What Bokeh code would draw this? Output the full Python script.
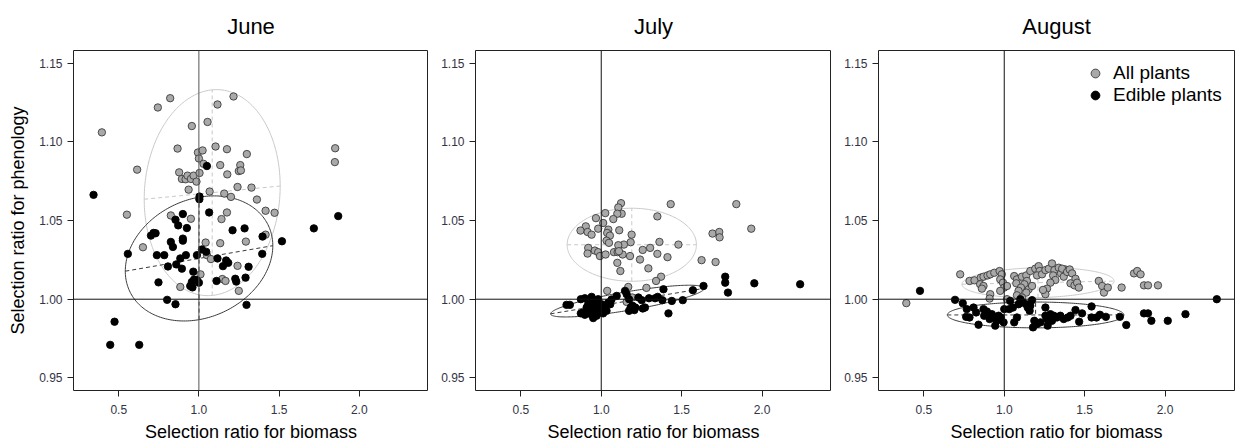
import numpy as np
from bokeh.plotting import figure
from bokeh.layouts import row
from bokeh.models import Span, Legend, LegendItem, FixedTicker, Range1d, PrintfTickFormatter
from bokeh.embed import file_html
from bokeh.resources import INLINE

FONT = "Liberation Sans"

months = ["June", "July", "August"]
x_ticks = [0.5, 1.0, 1.5, 2.0]
y_ticks = [0.95, 1.00, 1.05, 1.10, 1.15]
x_limits = [0.218, 2.432]
y_limits = [0.942, 1.158]
series_labels = ["All plants", "Edible plants"]

june_all = [(0.395,1.106),(0.551,1.0537),(0.615,1.0823),(0.651,1.033),(0.744,1.1218),(0.821,1.1277),
            (0.867,1.0957),(0.877,1.0806),(0.894,1.0764),(0.917,1.0762),(0.929,1.0785),(0.950,1.0764),
            (0.967,1.0785),(0.985,1.0747),(1.004,1.0802),(0.936,1.0696),(0.956,1.110),(0.825,1.0532),
            (0.950,1.0511),(0.994,1.0932),(1.000,1.0894),(1.023,1.0945),(1.029,1.086),(1.054,1.1126),
            (1.067,1.0684),(1.104,1.097),(1.116,1.1237),(1.133,1.0852),(1.175,1.0953),(1.177,1.0793),
            (1.158,1.0671),(1.200,1.065),(1.216,1.1288),(1.175,1.0551),(1.141,1.0509),(1.241,1.0713),
            (1.258,1.0852),(1.249,1.0814),(1.262,1.0818),(1.299,1.0922),(1.328,1.0709),(1.362,1.0633),
            (1.416,1.0562),(1.472,1.0549),(1.416,1.041),(1.293,1.0366),(1.133,1.0356),(1.042,1.036),
            (1.050,1.028),(1.075,1.0255),(1.146,1.0128),(1.166,1.0116),(1.241,1.0212),(1.249,1.0053),
            (1.010,1.0158),(0.884,1.0078),(1.850,1.0959),(1.848,1.0871)]
june_edible = [(1.004,1.0652),(1.003,1.0635),(1.064,1.0551),(0.900,1.0541),(0.854,1.0505),(0.871,1.0469),
               (0.925,1.0452),(0.717,1.0421),(0.701,1.0404),(0.730,1.0419),(0.825,1.0364),(0.838,1.0332),
               (0.900,1.0385),(0.900,1.0372),(1.210,1.0438),(1.285,1.0450),(1.397,1.0398),(1.518,1.0368),
               (1.869,1.0528),(1.717,1.0450),(0.557,1.0288),(0.738,1.0280),(0.784,1.0280),(0.884,1.0259),
               (0.919,1.0280),(0.988,1.0280),(1.019,1.0316),(1.046,1.0301),(0.807,1.0208),(0.859,1.0221),
               (0.894,1.0194),(1.116,1.0259),(1.170,1.0246),(1.183,1.0231),(1.150,1.0210),(1.310,1.0206),
               (0.965,1.0175),(0.748,1.0107),(0.946,1.0084),(0.956,1.0109),(0.960,1.0075),(0.970,1.0125),
               (0.988,1.0120),(1.000,1.0105),(1.110,1.0116),(1.227,1.0130),(1.233,1.0112),(1.291,1.0137),
               (1.395,1.0288),(0.802,0.9996),(0.854,0.9968),(1.297,0.9964),(0.474,0.9857),(0.447,0.9710),
               (0.628,0.9710),(0.343,1.0663),(1.050,1.0846)]

july_all = [(1.123,1.0610),(1.106,1.0583),(1.127,1.0543),(1.100,1.0543),(1.025,1.0547),(0.967,1.0515),
            (1.075,1.0509),(1.012,1.0484),(0.904,1.0463),(0.871,1.0436),(0.915,1.0427),(0.940,1.0410),
            (0.981,1.0448),(1.044,1.0442),(1.037,1.0421),(1.054,1.0404),(1.112,1.0438),(1.189,1.0410),
            (1.033,1.0372),(1.048,1.0358),(1.183,1.0362),(1.141,1.0347),(1.106,1.0343),(1.362,1.0364),
            (1.480,1.0347),(0.919,1.0326),(0.960,1.0309),(0.915,1.0290),(0.981,1.0299),(0.992,1.0274),
            (1.027,1.0284),(1.079,1.0299),(1.102,1.0299),(1.133,1.0284),(1.179,1.0274),(1.258,1.0313),
            (1.304,1.0326),(1.349,1.0288),(1.241,1.0252),(1.412,1.0267),(1.100,1.0231),(1.293,1.0196),
            (1.119,1.0179),(1.349,1.0526),(1.432,1.0604),(1.840,1.0604),(1.692,1.0417),(1.734,1.0427),
            (1.736,1.0393),(1.624,1.0248),(1.711,1.0236),(1.933,1.0448),(1.372,1.0143),(1.341,1.0116),
            (1.281,1.0072),(1.168,1.0078),(1.037,1.0053),(1.193,1.0011),(1.158,0.9983),(1.110,1.0305)]
july_edible = [(0.784,0.9964),(0.805,0.9964),(0.873,1.0000),(0.898,1.0006),(0.940,1.0015),(0.944,0.9989),
               (0.919,0.9968),(0.888,0.9916),(0.873,0.9910),(0.898,0.9901),(0.950,0.9880),(0.960,0.9905),
               (0.981,0.9926),(0.971,0.9958),(0.992,0.9947),(0.940,0.9937),(0.919,0.9922),(0.950,0.9916),
               (1.023,0.9958),(1.044,0.9979),(1.064,0.9998),(1.056,0.9968),(1.033,0.9926),(1.012,0.9910),
               (1.096,1.0021),(1.148,1.0053),(1.158,1.0032),(1.173,1.0000),(1.183,0.9947),(1.195,0.9958),
               (1.212,0.9947),(1.206,0.9931),(1.173,0.9926),(1.231,1.0011),(1.252,0.9994),(1.258,0.9941),
               (1.272,0.9947),(1.297,1.0006),(1.335,1.0006),(1.351,1.0015),(1.380,0.9994),(1.387,1.0063),
               (1.439,0.9989),(1.418,0.9910),(1.507,0.9994),(1.570,1.0057),(1.636,1.0084),(1.771,1.0143),
               (1.771,1.0105),(1.788,1.0042),(1.952,1.0101),(2.237,1.0095),(0.909,0.9947),(0.929,0.9958),
               (1.002,0.9968),(0.965,0.9979),(0.981,1.0000),(0.936,0.9905),(0.971,0.9895),(0.992,0.9916)]

august_all = [(0.391,0.9975),(0.726,1.0158),(0.784,1.0116),(0.815,1.0120),(0.854,1.0137),(0.871,1.0143),
              (0.896,1.0151),(0.913,1.0158),(0.938,1.0168),(0.971,1.0179),(0.985,1.0158),(0.850,1.0095),
              (0.871,1.0084),(0.861,1.0067),(0.975,1.0126),(0.992,1.0105),(1.000,1.0074),(1.017,1.0084),
              (0.913,1.0032),(0.909,1.0004),(0.975,1.0053),(1.062,1.0147),(1.079,1.0126),(1.075,1.0101),
              (1.110,1.0143),(1.137,1.0151),(1.141,1.0116),(1.125,1.0095),(1.104,1.0074),(1.089,1.0053),
              (1.079,1.0025),(1.162,1.0179),(1.193,1.0194),(1.214,1.0210),(1.220,1.0179),(1.204,1.0151),
              (1.235,1.0158),(1.256,1.0185),(1.277,1.0194),(1.297,1.0227),(1.312,1.0185),(1.304,1.0151),
              (1.339,1.0200),(1.353,1.0164),(1.380,1.0189),(1.370,1.0143),(1.318,1.0122),(1.287,1.0105),
              (1.266,1.0067),(1.256,1.0032),(1.241,1.0059),(1.152,1.0063),(1.173,1.0084),(1.137,1.0042),
              (1.110,1.0011),(1.017,1.0000),(1.360,1.0194),(1.391,1.0173),(1.407,1.0189),(1.422,1.0164),
              (1.443,1.0130),(1.412,1.0101),(1.437,1.0088),(1.453,1.0105),(1.464,1.0074),(1.588,1.0116),
              (1.609,1.0084),(1.620,1.0042),(1.644,1.0074),(1.730,1.0074),(1.807,1.0164),(1.827,1.0179),
              (1.848,1.0158),(1.869,1.0088),(1.894,1.0088),(1.956,1.0088)]
august_edible = [(0.476,1.0053),(0.694,0.9996),(0.742,0.9975),(0.767,0.9937),(0.763,0.9888),(0.784,0.9884),
                 (0.809,0.9947),(0.825,0.9916),(0.840,0.9838),(0.871,0.9937),(0.875,0.9895),(0.892,0.9922),
                 (0.909,0.9874),(0.923,0.9905),(0.933,0.9884),(0.944,0.9832),(0.954,0.9863),(0.965,0.9895),
                 (0.979,0.9884),(0.996,0.9853),(1.000,0.9937),(1.031,0.9937),(1.037,0.9989),(1.054,0.9947),
                 (1.062,0.9853),(1.079,0.9884),(1.089,0.9968),(1.100,1.0000),(1.116,0.9979),(1.137,0.9968),
                 (1.146,0.9947),(1.162,0.9958),(1.173,0.9994),(1.158,0.9926),(1.179,0.9821),(1.187,0.9863),
                 (1.204,0.9842),(1.225,0.9853),(1.256,0.9947),(1.256,0.9895),(1.266,0.9874),(1.270,0.9832),
                 (1.287,0.9905),(1.297,0.9863),(1.308,0.9895),(1.328,0.9884),(1.349,0.9895),(1.370,0.9874),
                 (1.395,0.9884),(1.412,0.9895),(1.443,0.9931),(1.466,0.9857),(1.484,0.9910),(1.543,0.9954),
                 (1.543,0.9884),(1.574,0.9884),(1.595,0.9901),(1.632,0.9888),(1.719,0.9888),(1.759,0.9836),
                 (1.869,0.9910),(1.894,0.9910),(1.915,0.9863),(2.017,0.9863),(2.127,0.9905),(2.322,1.0000)]

# ellipses: centre, first semi-axis vector, second semi-axis vector (data units)
june_all_ellipse = [(1.083, 1.0677), (0.424, 0.0042), (0.0, 0.0653)]
june_edible_ellipse = [(1.001, 1.0259), (0.460, 0.0081), (0.0, 0.0389)]
july_all_ellipse = [(1.190, 1.0346), (0.402, 0.0), (0.0, 0.0232)]
july_edible_ellipse = [(1.163, 0.9988), (0.478, 0.0081), (0.0, 0.0060)]
august_all_ellipse = [(1.210, 1.0105), (0.473, 0.0010), (0.0, 0.0095)]
august_edible_ellipse = [(1.195, 0.9900), (0.549, 0.0), (0.0, 0.0082)]

panels = [
    (june_all, june_edible, june_all_ellipse, june_edible_ellipse),
    (july_all, july_edible, july_all_ellipse, july_edible_ellipse),
    (august_all, august_edible, august_all_ellipse, august_edible_ellipse),
]

GRAY_FILL = "#a9a9a9"
GRAY_LINE = "#c9c9c9"
DARK_LINE = "#3a3a3a"

widths = [428, 403, 409]
borders_left = [73, 47, 47]
borders_right = [0, 0, 6]
H = 445


def draw_ellipse(p, ell, color):
    (cx, cy), (a1x, a1y), (a2x, a2y) = ell
    t = np.linspace(0, 2 * np.pi, 241)
    ex = cx + np.cos(t) * a1x + np.sin(t) * a2x
    ey = cy + np.cos(t) * a1y + np.sin(t) * a2y
    p.line(ex, ey, line_color=color, line_width=1)
    p.segment(x0=[cx - a1x, cx - a2x], y0=[cy - a1y, cy - a2y],
              x1=[cx + a1x, cx + a2x], y1=[cy + a1y, cy + a2y],
              line_color=color, line_width=1, line_dash="4 3")


figs = []
for i, (month, (all_pts, ed_pts, all_ell, ed_ell)) in enumerate(zip(months, panels)):
    p = figure(width=widths[i], height=H, output_backend="svg", toolbar_location=None,
               x_range=Range1d(*x_limits), y_range=Range1d(*y_limits),
               min_border_left=borders_left[i], min_border_right=borders_right[i],
               min_border_top=47, min_border_bottom=55, title=month)
    p.title.align = "center"
    p.title.text_font = FONT
    p.title.text_font_size = "22px"
    p.title.text_font_style = "normal"
    p.title.text_color = "black"
    p.title.standoff = 23
    p.grid.visible = False
    p.background_fill_color = "white"
    p.border_fill_color = "white"
    p.outline_line_color = "#222222"
    p.outline_line_width = 1
    p.outline_line_alpha = 1

    for ax in (p.xaxis[0], p.yaxis[0]):
        ax.axis_line_color = None
        ax.major_tick_out = 6
        ax.major_tick_in = 0
        ax.minor_tick_line_color = None
        ax.major_tick_line_color = "#222222"
        ax.major_label_text_font = FONT
        ax.major_label_text_font_size = "12px"
        ax.major_label_text_color = "#333344"
        ax.axis_label_text_font = FONT
        ax.axis_label_text_font_size = "18px"
        ax.axis_label_text_font_style = "normal"
        ax.axis_label_text_color = "black"
    p.xaxis.ticker = FixedTicker(ticks=x_ticks)
    p.yaxis.ticker = FixedTicker(ticks=y_ticks)
    p.xaxis.formatter = PrintfTickFormatter(format="%.1f")
    p.yaxis.formatter = PrintfTickFormatter(format="%.2f")
    p.xaxis.major_label_standoff = 8
    p.yaxis.major_label_standoff = 5
    p.xaxis.axis_label = "Selection ratio for biomass"
    p.xaxis.axis_label_standoff = 5
    if i == 0:
        p.yaxis.axis_label = "Selection ratio for phenology"
        p.yaxis.axis_label_standoff = 8

    p.add_layout(Span(location=1.0, dimension="height", line_color="#555555" if i == 0 else "#111111", line_width=1))
    p.add_layout(Span(location=1.0, dimension="width", line_color="#111111", line_width=1))

    draw_ellipse(p, all_ell, GRAY_LINE)
    draw_ellipse(p, ed_ell, DARK_LINE)

    r_all = p.scatter([q[0] for q in all_pts], [q[1] for q in all_pts], size=7.4,
                      fill_color=GRAY_FILL, line_color="#3c3c3c", line_width=0.9)
    r_ed = p.scatter([q[0] for q in ed_pts], [q[1] for q in ed_pts], size=7.4,
                     fill_color="black", line_color="black", line_width=0.9)

    if i == 2:
        legend = Legend(items=[LegendItem(label=series_labels[0], renderers=[r_all]),
                               LegendItem(label=series_labels[1], renderers=[r_ed])],
                        location=(206, 284), border_line_color=None, background_fill_alpha=0,
                        label_text_font=FONT, label_text_font_size="19px", label_text_color="black",
                        glyph_width=22, glyph_height=22, label_height=22, spacing=0,
                        padding=10, margin=0, label_standoff=7)
        p.add_layout(legend)
    figs.append(p)

layout = row(*figs, spacing=0)
open("out.html", "w").write(file_html(layout, INLINE))
